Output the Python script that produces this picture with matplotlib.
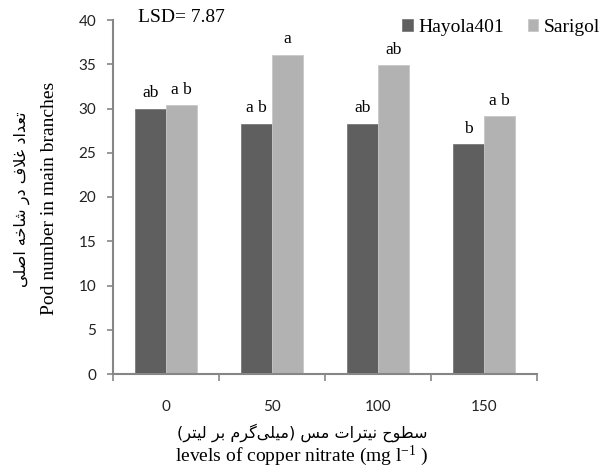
import matplotlib
matplotlib.use('Agg')
import matplotlib.pyplot as plt
import numpy as np

plt.rcParams['font.family'] = ['Liberation Serif', 'DejaVu Sans']
plt.rcParams['mathtext.fontset'] = 'custom'
plt.rcParams['mathtext.rm'] = 'Liberation Serif'
plt.rcParams['mathtext.it'] = 'Liberation Serif'

# data
levels = ['0', '50', '100', '150']
hayola = [30.0, 28.3, 28.3, 26.0]
sarigol = [30.4, 36.1, 34.9, 29.1]
hayola_letters = ['ab', 'a b', 'ab', 'b']
sarigol_letters = ['a b', 'a', 'ab', 'a b']
series_names = ['Hayola401', 'Sarigol']
lsd_text = 'LSD= 7.87'
ylabel_fa = 'تعداد غلاف در شاخه اصلی'
ylabel_en = 'Pod number in main branches'
xlabel_fa = 'سطوح نیترات مس (میلی\u200cگرم بر لیتر)'
xlabel_en = 'levels of copper nitrate (mg l$^{\\mathrm{-1}}$ )'

# matplotlib has no arabic shaping, so pick presentation forms by hand
FORMS = {
    'ا': ('\uFE8D', '\uFE8E', None, None),
    'ب': ('\uFE8F', '\uFE90', '\uFE91', '\uFE92'),
    'ت': ('\uFE95', '\uFE96', '\uFE97', '\uFE98'),
    'ح': ('\uFEA1', '\uFEA2', '\uFEA3', '\uFEA4'),
    'خ': ('\uFEA5', '\uFEA6', '\uFEA7', '\uFEA8'),
    'د': ('\uFEA9', '\uFEAA', None, None),
    'ر': ('\uFEAD', '\uFEAE', None, None),
    'س': ('\uFEB1', '\uFEB2', '\uFEB3', '\uFEB4'),
    'ش': ('\uFEB5', '\uFEB6', '\uFEB7', '\uFEB8'),
    'ص': ('\uFEB9', '\uFEBA', '\uFEBB', '\uFEBC'),
    'ط': ('\uFEC1', '\uFEC2', '\uFEC3', '\uFEC4'),
    'ع': ('\uFEC9', '\uFECA', '\uFECB', '\uFECC'),
    'غ': ('\uFECD', '\uFECE', '\uFECF', '\uFED0'),
    'ف': ('\uFED1', '\uFED2', '\uFED3', '\uFED4'),
    'ل': ('\uFEDD', '\uFEDE', '\uFEDF', '\uFEE0'),
    'م': ('\uFEE1', '\uFEE2', '\uFEE3', '\uFEE4'),
    'ن': ('\uFEE5', '\uFEE6', '\uFEE7', '\uFEE8'),
    'ه': ('\uFEE9', '\uFEEA', '\uFEEB', '\uFEEC'),
    'و': ('\uFEED', '\uFEEE', None, None),
    'ی': ('\uFEEF', '\uFEF0', '\uFEF3', '\uFEF4'),
    'گ': ('\uFB92', '\uFB93', '\uFB94', '\uFB95'),
    'لا': ('\uFEFB', '\uFEFC', None, None),
}


def farsi(text):
    toks = []
    i = 0
    while i < len(text):
        if text[i:i + 2] == 'لا':
            toks.append('لا')
            i += 2
        else:
            toks.append(text[i])
            i += 1
    out = []
    for k, t in enumerate(toks):
        if t not in FORMS:
            if t != '\u200c':
                out.append(t)
            continue
        prev = toks[k - 1] if k > 0 else ''
        nxt = toks[k + 1] if k + 1 < len(toks) else ''
        a = prev in FORMS and FORMS[prev][2] is not None
        b = FORMS[t][2] is not None and nxt in FORMS
        iso, fin, ini, med = FORMS[t]
        out.append(med if a and b else fin if a else ini if b else iso)
    mirror = {'(': ')', ')': '('}
    return ''.join(mirror.get(c, c) for c in reversed(out))


dark = '#5f5f5f'
light = '#b2b2b2'
axis_col = '#868686'

fig = plt.figure(figsize=(5.99, 4.72), dpi=100)
ax = fig.add_axes([113 / 599, 1 - 374 / 472, 424 / 599, 354 / 472])

x = np.arange(len(levels))
w = 0.288
b1 = ax.bar(x - w / 2, hayola, w, color=dark, edgecolor='#7a7a7a', linewidth=0.6, label=series_names[0])
b2 = ax.bar(x + w / 2, sarigol, w, color=light, edgecolor='#c8c8c8', linewidth=0.6, label=series_names[1])

for xi, v, t in zip(x - w / 2, hayola, hayola_letters):
    ax.annotate(t, (xi, v), xytext=(0, 8), textcoords='offset points', ha='center', va='baseline', fontsize=12.5)
for xi, v, t in zip(x + w / 2, sarigol, sarigol_letters):
    ax.annotate(t, (xi, v), xytext=(0, 8), textcoords='offset points', ha='center', va='baseline', fontsize=12.5)

ax.set_xlim(-0.5, len(levels) - 0.5)
ax.set_ylim(0, 40)
ax.set_yticks(np.arange(0, 41, 5))
ax.set_xticks(x)
ax.set_xticklabels(levels)
ax.set_xticks(np.arange(-0.5, len(levels), 1), minor=True)
ax.tick_params(axis='x', which='major', length=0, pad=19)
ax.tick_params(axis='x', which='minor', length=5, width=1.2, color=axis_col)
ax.tick_params(axis='y', length=4, width=1.2, color=axis_col, pad=8)
for lab in ax.get_xticklabels() + ax.get_yticklabels():
    lab.set_fontfamily('Lato')
    lab.set_fontsize(11)
    lab.set_color('#222222')

for s in ['top', 'right']:
    ax.spines[s].set_visible(False)
for s in ['left', 'bottom']:
    ax.spines[s].set_color(axis_col)
    ax.spines[s].set_linewidth(1.5)

fig.text(138 / 599, 1 - 17 / 472, lsd_text, fontsize=14, va='center', ha='left')

fig.text(22 / 599, 1 - 199 / 472, farsi(ylabel_fa), rotation=90, ha='center', va='center',
         fontsize=11.5, family=['DejaVu Sans'])
fig.text(50 / 599, 1 - 198 / 472, ylabel_en, rotation=90, ha='center', va='center', fontsize=14)
fig.text(302 / 599, 1 - 433 / 472, farsi(xlabel_fa), ha='center', va='center',
         fontsize=11.5, family=['DejaVu Sans'])
fig.text(302 / 599, 1 - 456 / 472, xlabel_en, ha='center', va='center', fontsize=14)

fig.legend(handles=[b1, b2], loc='upper right', bbox_to_anchor=(1.025, 1 - 5 / 472), ncol=2, frameon=False,
           fontsize=14, handlelength=0.55, handleheight=0.55, handletextpad=0.3, columnspacing=1.2,
           borderaxespad=0.3)

plt.savefig('out.png', dpi=100)
